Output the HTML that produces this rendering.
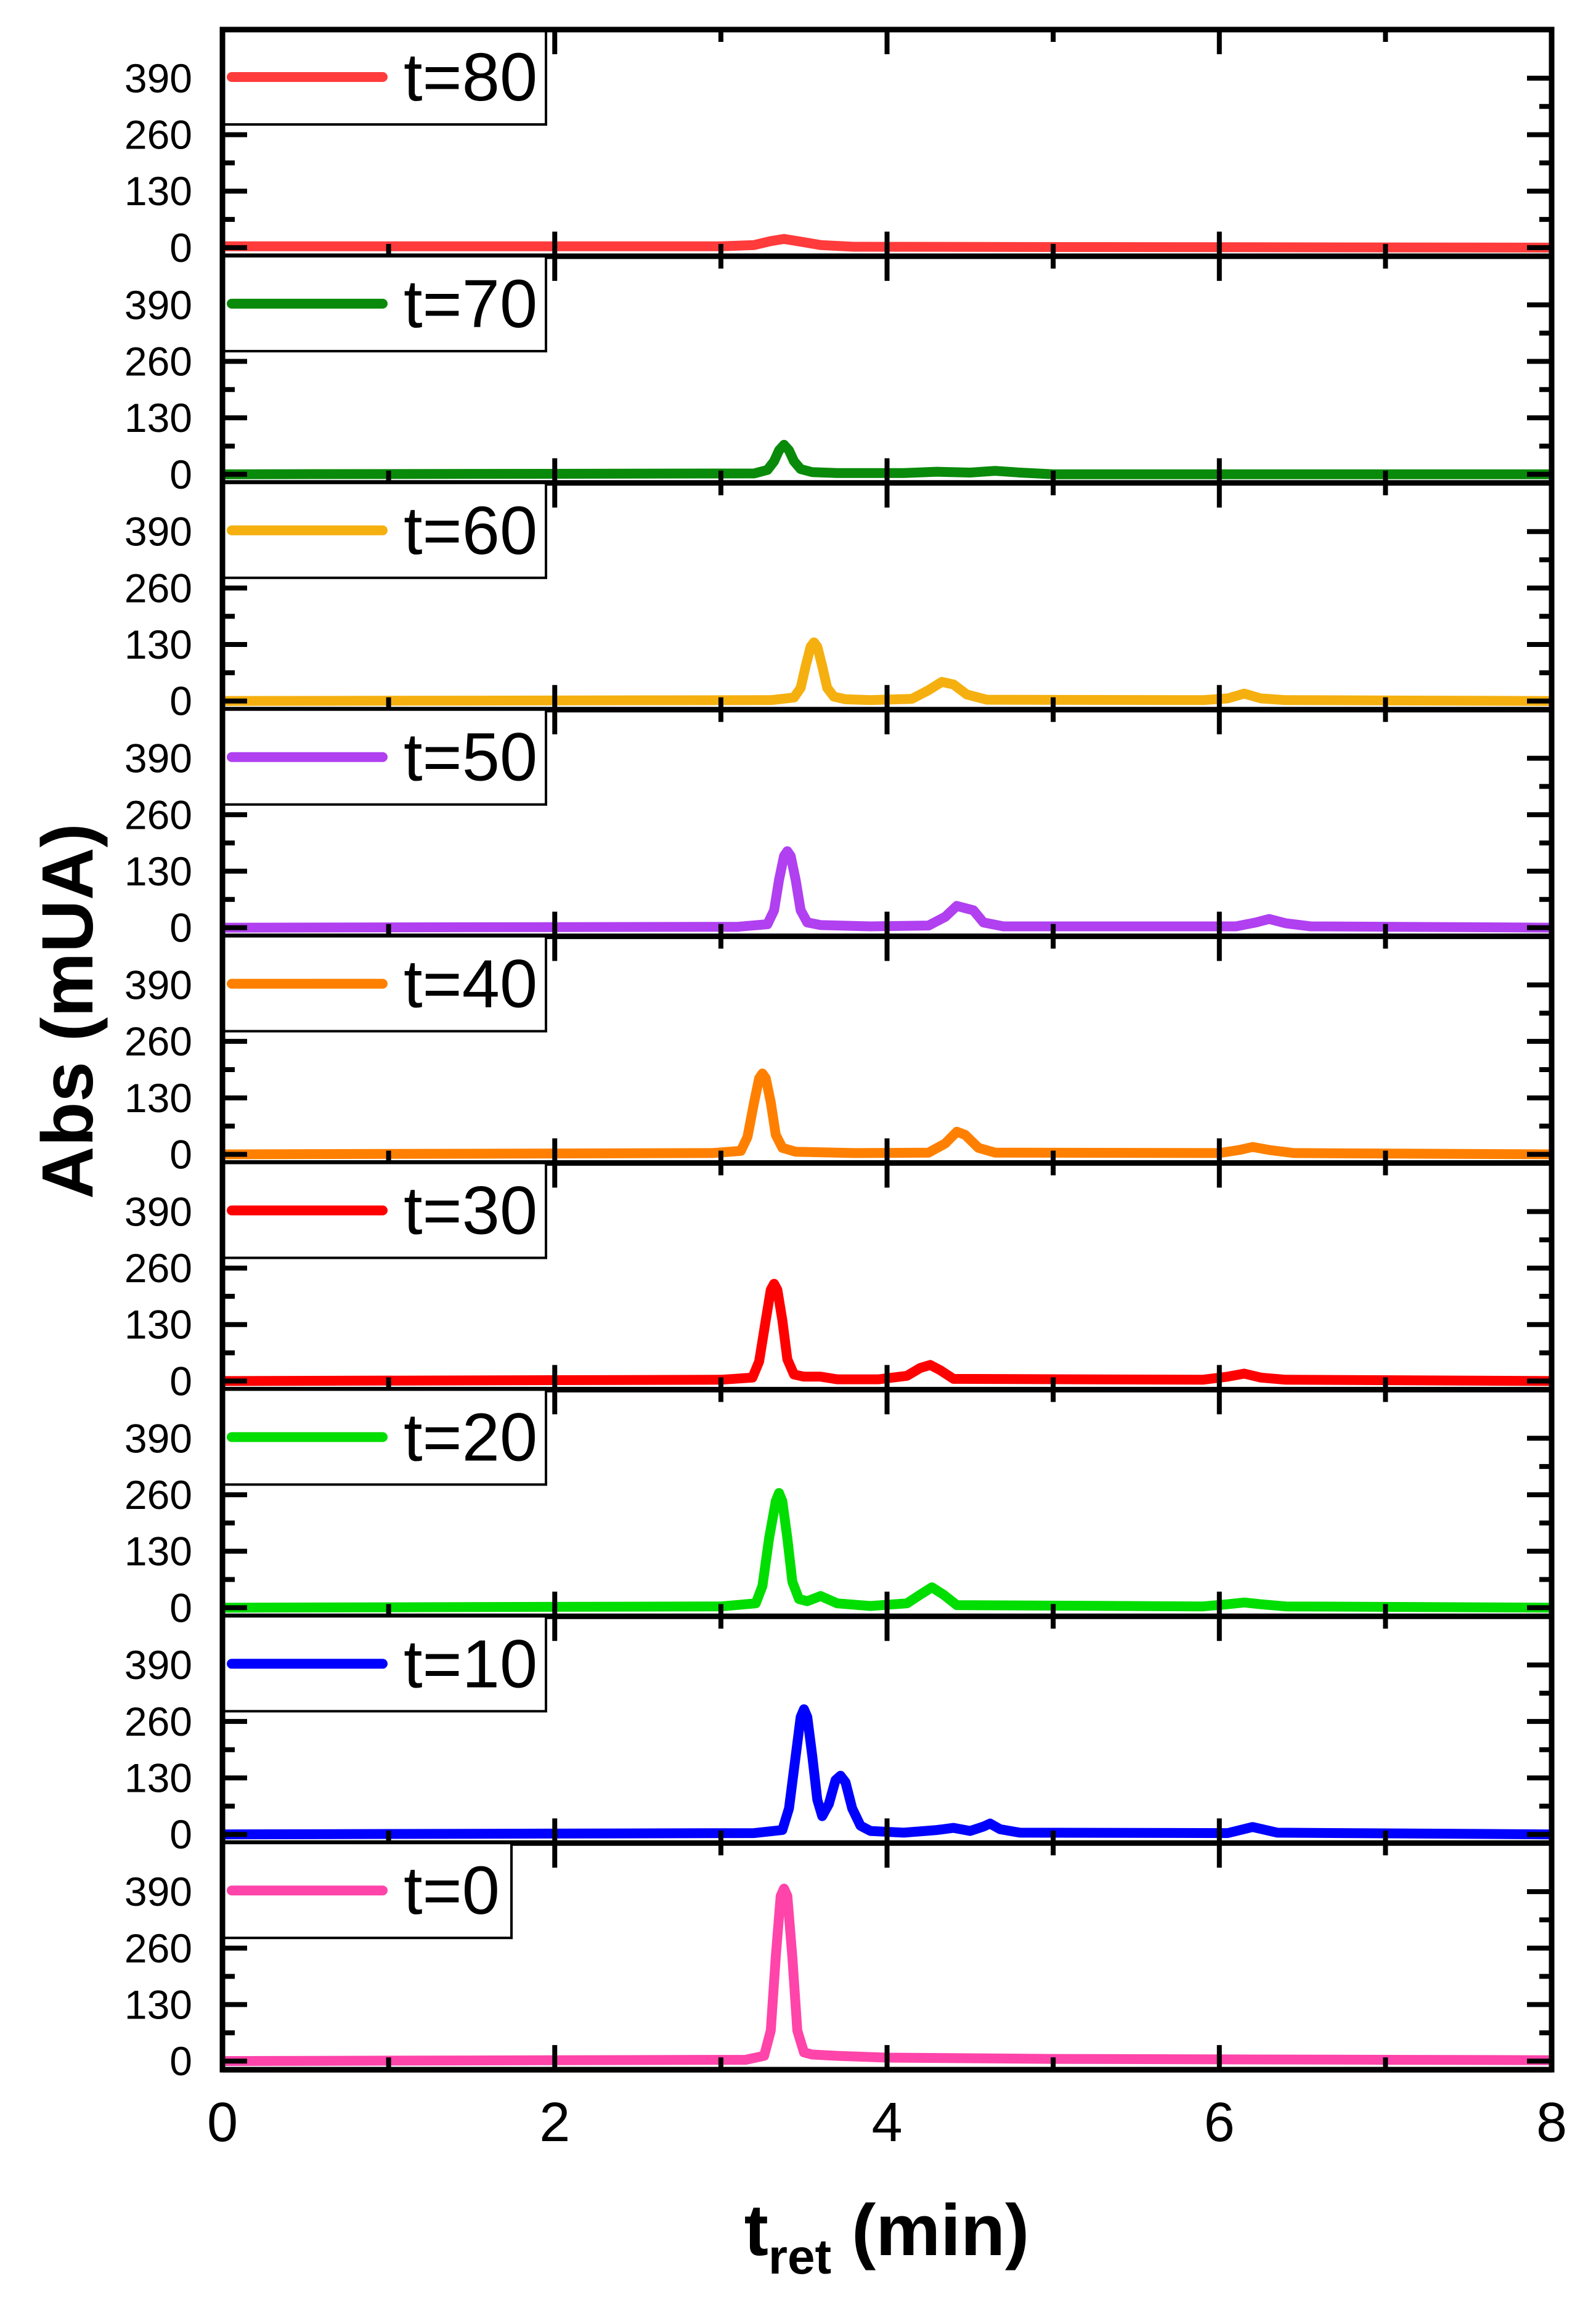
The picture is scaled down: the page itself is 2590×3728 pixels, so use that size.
<!DOCTYPE html>
<html><head><meta charset="utf-8"><style>
html,body{margin:0;padding:0;background:#fff}
svg{display:block;font-family:"Liberation Sans",Arial,sans-serif}
</style></head><body>
<div style="position:relative;width:2590px;height:3728px">
<svg id="chart" width="2590" height="3728" viewBox="0 0 2590 3728" style="position:absolute;left:0;top:0"></svg>
<svg width="2590" height="3728" style="position:absolute;left:0;top:0">
  <text x="1439" y="3660" text-anchor="middle" font-size="118" font-weight="bold" font-family="Liberation Sans, Arial, sans-serif">t<tspan font-size="80" dy="30">ret</tspan><tspan dy="-30"> (min)</tspan></text>
  <text x="0" y="0" transform="translate(150,1641) rotate(-90)" text-anchor="middle" font-size="118" font-weight="bold" font-family="Liberation Sans, Arial, sans-serif">Abs (mUA)</text>
</svg>
</div>
<script>
const seriesLabels = ["t=80","t=70","t=60","t=50","t=40","t=30","t=20","t=10","t=0"];
const seriesColors = ["#ff3b3b","#0a8a0a","#f5b010","#b040f0","#ff8000","#ff0000","#00dd00","#0000ff","#ff44aa"];
const xTicks = [0,2,4,6,8];
const xMinorTicks = [1,3,5,7];
const yTicks = [0,130,260,390];
const yMinorTicks = [65,195,325];

const x_t80 = [0,3.0,3.2,3.3,3.38,3.46,3.6,3.8,8];
const y_t80 = [3,3,6,15,20,15,6,2,0];
const x_t70 = [0,3.2,3.28,3.32,3.35,3.38,3.41,3.44,3.48,3.55,3.7,4.1,4.3,4.5,4.65,4.8,5.0,8];
const y_t70 = [0,2,10,30,55,68,55,30,12,5,3,3,6,4,8,4,0,0];
const x_t60 = [0,3.3,3.44,3.48,3.51,3.54,3.56,3.58,3.61,3.64,3.68,3.75,3.9,4.15,4.25,4.33,4.4,4.48,4.6,5.9,6.05,6.15,6.25,6.4,8];
const y_t60 = [0,2,8,30,80,125,135,125,80,30,10,4,2,5,25,44,38,15,3,2,6,17,6,2,0];
const x_t50 = [0,3.1,3.28,3.32,3.35,3.38,3.4,3.42,3.45,3.48,3.52,3.6,3.9,4.25,4.35,4.42,4.47,4.52,4.58,4.7,6.1,6.22,6.3,6.4,6.55,8];
const y_t50 = [0,2,8,40,110,165,176,165,110,40,12,6,3,5,25,50,45,40,12,3,3,12,20,10,3,0];
const x_t40 = [0,2.95,3.12,3.16,3.2,3.23,3.25,3.27,3.3,3.33,3.37,3.45,3.8,4.25,4.35,4.42,4.47,4.55,4.65,6.0,6.12,6.2,6.3,6.45,8];
const y_t40 = [0,3,8,40,120,175,186,175,120,45,15,6,3,4,25,52,45,15,4,3,10,17,10,3,0];
const x_t30 = [0,3.0,3.19,3.23,3.27,3.3,3.32,3.34,3.37,3.4,3.44,3.5,3.6,3.7,3.95,4.12,4.2,4.26,4.32,4.4,5.9,6.05,6.15,6.25,6.4,8];
const y_t30 = [0,3,8,45,140,210,224,210,140,50,15,10,10,4,4,12,30,37,25,5,3,10,17,8,3,0];
const x_t20 = [0,3.0,3.21,3.25,3.29,3.33,3.35,3.37,3.4,3.43,3.47,3.52,3.6,3.7,3.9,4.12,4.2,4.27,4.34,4.42,5.9,6.05,6.15,6.25,6.4,8];
const y_t20 = [0,3,10,50,160,245,264,245,160,60,20,15,27,10,4,10,30,47,30,6,3,8,12,8,3,0];
const x_t10 = [0,3.2,3.37,3.41,3.45,3.48,3.5,3.52,3.55,3.58,3.61,3.65,3.69,3.72,3.75,3.79,3.84,3.9,4.1,4.3,4.4,4.5,4.58,4.62,4.68,4.8,6.05,6.2,6.35,8];
const y_t10 = [0,3,10,60,180,270,288,270,180,80,42,70,125,135,120,60,20,8,4,10,15,8,18,25,12,4,3,17,4,0];
const x_t0 = [0,3.15,3.26,3.3,3.33,3.36,3.38,3.4,3.43,3.46,3.5,3.55,3.7,4.0,5.0,8];
const y_t0 = [0,3,12,70,240,380,397,380,240,70,20,15,12,8,5,2];

const seriesX = [x_t80,x_t70,x_t60,x_t50,x_t40,x_t30,x_t20,x_t10,x_t0];
const seriesY = [y_t80,y_t70,y_t60,y_t50,y_t40,y_t30,y_t20,y_t10,y_t0];

const svg = document.getElementById('chart');
const NS = 'http://www.w3.org/2000/svg';
const L = 361, R = 2518, TOP = 48, PH = 367.9;
function xs(v){ return L + (R - L) * v / 8; }
function ys(i, v){ return TOP + (i+1)*PH - 14 - v * 275 / 390; }
function mk(tag, attrs, parent){
  const e = document.createElementNS(NS, tag);
  for (const k in attrs) e.setAttribute(k, attrs[k]);
  (parent || svg).appendChild(e);
  return e;
}

for (let i = 0; i < seriesLabels.length; i++) {
  const g = mk('g', {});
  
  
  const top = TOP + i*PH, bot = top + PH;
  const pts = seriesX[i].map((x, k) => xs(x).toFixed(1) + ',' + ys(i, seriesY[i][k]).toFixed(1)).join(' ');
  const pl = mk('polyline', {points: pts, fill: 'none', stroke: seriesColors[i], 'stroke-width': 16, 'stroke-linejoin': 'round', 'stroke-linecap': 'butt'}, g);
  
  
  yTicks.forEach(v => {
    const y = ys(i, v);
    mk('line', {x1: L, x2: L+40, y1: y, y2: y, stroke: '#000', 'stroke-width': 8}, g);
    mk('line', {x1: R, x2: R-40, y1: y, y2: y, stroke: '#000', 'stroke-width': 8}, g);
    const t = mk('text', {x: 312, y: y + 23, 'font-size': 66, 'text-anchor': 'end', fill: '#000'}, g);
    t.textContent = v;
    
    
  });
  yMinorTicks.forEach(v => {
    const y = ys(i, v);
    mk('line', {x1: L, x2: L+20, y1: y, y2: y, stroke: '#000', 'stroke-width': 8}, g);
    mk('line', {x1: R, x2: R-20, y1: y, y2: y, stroke: '#000', 'stroke-width': 8}, g);
  });
  xTicks.forEach(v => {
    const x = xs(v);
    mk('line', {x1: x, x2: x, y1: top, y2: top+40, stroke: '#000', 'stroke-width': 8}, g);
    mk('line', {x1: x, x2: x, y1: bot, y2: bot-40, stroke: '#000', 'stroke-width': 8}, g);
  });
  xMinorTicks.forEach(v => {
    const x = xs(v);
    mk('line', {x1: x, x2: x, y1: top, y2: top+20, stroke: '#000', 'stroke-width': 8}, g);
    mk('line', {x1: x, x2: x, y1: bot, y2: bot-20, stroke: '#000', 'stroke-width': 8}, g);
  });
  const lg = mk('g', {}, g);
  
  
  const bw = seriesLabels[i].length === 3 ? 469 : 525;
  mk('rect', {x: L, y: top, width: bw, height: 154, fill: '#fff', stroke: '#000', 'stroke-width': 4}, lg);
  mk('line', {x1: 376, x2: 621, y1: top+77, y2: top+77, stroke: seriesColors[i], 'stroke-width': 16, 'stroke-linecap': 'round'}, lg);
  const lt = mk('text', {x: 655, y: top+115, 'font-size': 110, fill: '#000'}, lg);
  lt.textContent = seriesLabels[i];
  mk('line', {x1: L, x2: R, y1: bot, y2: bot, stroke: '#000', 'stroke-width': 9}, g);
}
const fr = mk('rect', {x: L, y: TOP, width: R-L, height: PH*9, fill: 'none', stroke: '#000', 'stroke-width': 9});


xTicks.forEach(v => {
  const t = mk('text', {x: xs(v), y: 3475, 'font-size': 90, 'text-anchor': 'middle', fill: '#000'});
  t.textContent = v;
  
  
});
</script>
</body></html>
